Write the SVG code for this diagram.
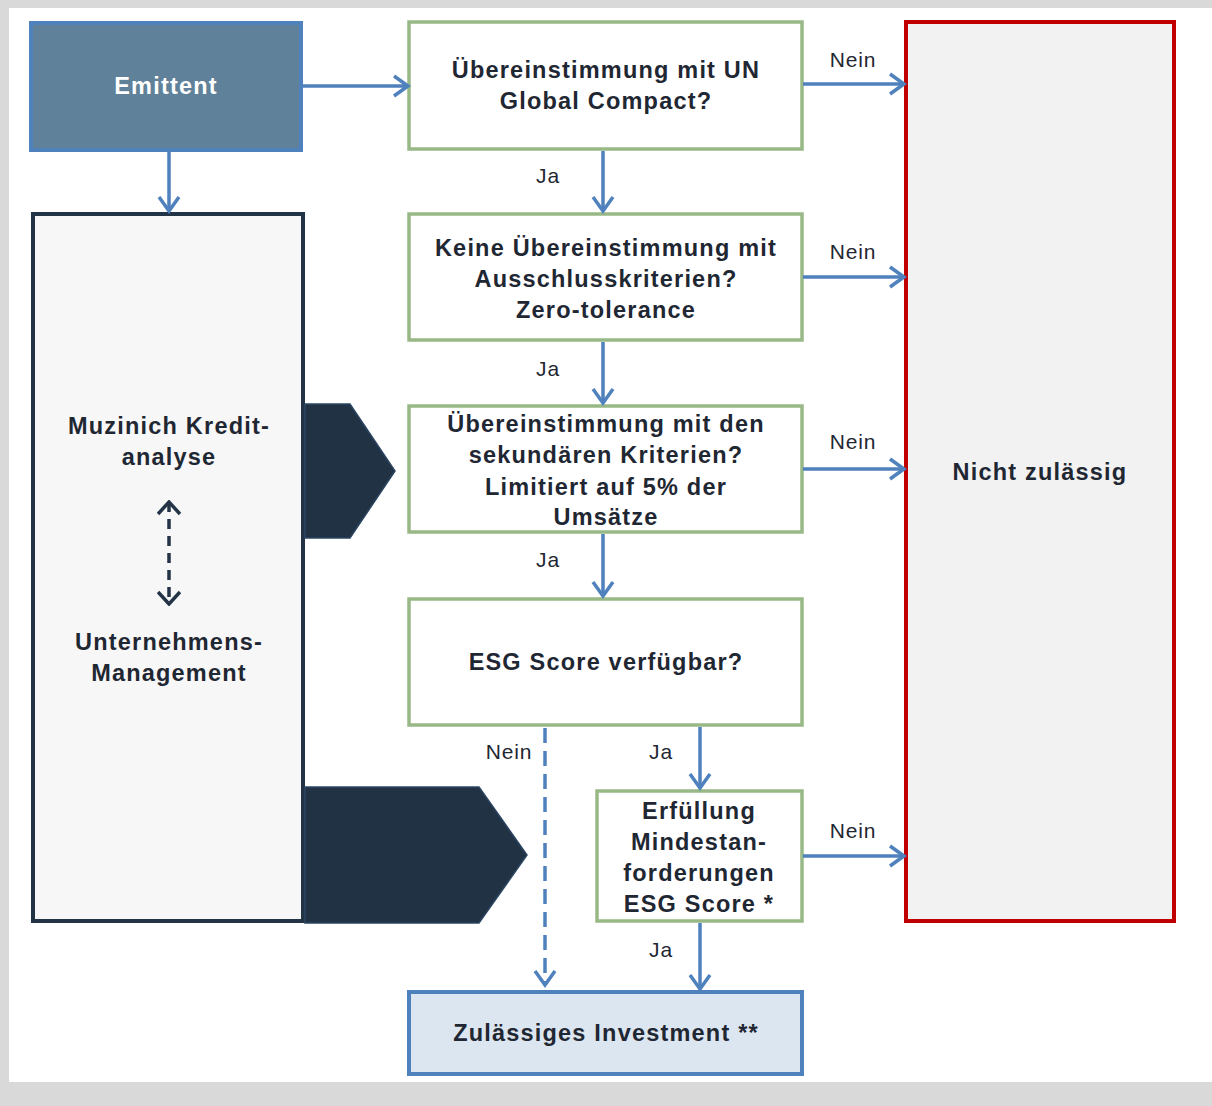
<svg xmlns="http://www.w3.org/2000/svg" width="1212" height="1106" viewBox="0 0 1212 1106">
<defs>
<style>
.t{font-family:"Liberation Sans",Arial,sans-serif;font-weight:bold;font-size:23.5px;fill:#1f2733;text-anchor:middle;letter-spacing:1.2px}
.l{font-family:"Liberation Sans",Arial,sans-serif;font-size:21px;fill:#1f2733;text-anchor:middle;letter-spacing:0.8px}
.g{fill:#fff;stroke:#98b886;stroke-width:3.5}
.c{fill:none;stroke:#4f81bd;stroke-width:3.5}
.d{fill:#203243;stroke:#2b4563;stroke-width:1.5}
</style>
<marker id="ah" markerUnits="userSpaceOnUse" viewBox="0 0 24 24" refX="21" refY="12" markerWidth="24" markerHeight="24" orient="auto">
<path d="M7,2 L21,12 L7,22" fill="none" stroke="#4f81bd" stroke-width="3.5"/>
</marker>
<marker id="dh" markerUnits="userSpaceOnUse" viewBox="0 0 24 24" refX="22" refY="12" markerWidth="24" markerHeight="24" orient="auto">
<path d="M10,1 L22,12 L10,23" fill="none" stroke="#243447" stroke-width="3.5"/>
</marker>
<marker id="dhs" markerUnits="userSpaceOnUse" viewBox="0 0 24 24" refX="22" refY="12" markerWidth="24" markerHeight="24" orient="auto-start-reverse">
<path d="M10,1 L22,12 L10,23" fill="none" stroke="#243447" stroke-width="3.5"/>
</marker>
</defs>
<rect x="0" y="0" width="1212" height="1106" fill="#d9d9d9"/>
<rect x="9" y="8" width="1203" height="1074" fill="#fff"/>

<g id="emittent">
<rect x="31" y="23" width="270" height="127" fill="#5f8199" stroke="#4f81bd" stroke-width="4"/>
<text class="t" x="166" y="94" style="fill:#fff">Emittent</text>
</g>
<g id="analyse">
<rect x="33" y="214" width="270" height="707" fill="#f7f7f7" stroke="#243447" stroke-width="4"/>
<text class="t" x="169" y="434">Muzinich Kredit-</text>
<text class="t" x="169" y="465">analyse</text>
<line x1="169" y1="502" x2="169" y2="604" stroke="#243447" stroke-width="3.5" stroke-dasharray="10,7" marker-start="url(#dhs)" marker-end="url(#dh)"/>
<text class="t" x="169" y="650">Unternehmens-</text>
<text class="t" x="169" y="681">Management</text>
</g>
<g id="pfeil1"><polygon class="d" points="305,404 350,404 395,471 350,538 305,538"/></g>
<g id="pfeil2"><polygon class="d" points="305,787 479,787 527,855 479,923 305,923"/></g>

<g id="q1">
<rect class="g" x="409" y="22" width="393" height="127"/>
<text class="t" x="606" y="78">Übereinstimmung mit UN</text>
<text class="t" x="606" y="109">Global Compact?</text>
</g>
<g id="q2">
<rect class="g" x="409" y="214" width="393" height="126"/>
<text class="t" x="606" y="256">Keine Übereinstimmung mit</text>
<text class="t" x="606" y="287">Ausschlusskriterien?</text>
<text class="t" x="606" y="318">Zero-tolerance</text>
</g>
<g id="q3">
<rect class="g" x="409" y="406" width="393" height="126"/>
<text class="t" x="606" y="432">Übereinstimmung mit den</text>
<text class="t" x="606" y="463">sekundären Kriterien?</text>
<text class="t" x="606" y="495">Limitiert auf 5% der</text>
<text class="t" x="606" y="525">Umsätze</text>
</g>
<g id="q4">
<rect class="g" x="409" y="599" width="393" height="126"/>
<text class="t" x="606" y="670">ESG Score verfügbar?</text>
</g>
<g id="q5">
<rect class="g" x="597" y="791" width="205" height="130"/>
<text class="t" x="699" y="819">Erfüllung</text>
<text class="t" x="699" y="850">Mindestan-</text>
<text class="t" x="699" y="881">forderungen</text>
<text class="t" x="699" y="912">ESG Score *</text>
</g>
<g id="nicht">
<rect x="906" y="22" width="268" height="899" fill="#f2f2f2" stroke="#c00000" stroke-width="4"/>
<text class="t" x="1040" y="480">Nicht zulässig</text>
</g>
<g id="invest">
<rect x="409" y="992" width="393" height="82" fill="#dce6f1" stroke="#4f81bd" stroke-width="4"/>
<text class="t" x="606" y="1041">Zulässiges Investment **</text>
</g>

<g id="connectors">
<line class="c" x1="303" y1="86" x2="408" y2="86" marker-end="url(#ah)"/>
<line class="c" x1="169" y1="152" x2="169" y2="211" marker-end="url(#ah)"/>
<line class="c" x1="603" y1="151" x2="603" y2="211" marker-end="url(#ah)"/>
<line class="c" x1="603" y1="342" x2="603" y2="403" marker-end="url(#ah)"/>
<line class="c" x1="603" y1="534" x2="603" y2="596" marker-end="url(#ah)"/>
<line class="c" x1="700" y1="727" x2="700" y2="788" marker-end="url(#ah)"/>
<line class="c" x1="700" y1="923" x2="700" y2="989" marker-end="url(#ah)"/>
<line class="c" x1="545" y1="728" x2="545" y2="985" stroke-dasharray="15,8" marker-end="url(#ah)"/>
<line class="c" x1="803" y1="84" x2="904" y2="84" marker-end="url(#ah)"/>
<line class="c" x1="803" y1="277" x2="904" y2="277" marker-end="url(#ah)"/>
<line class="c" x1="803" y1="469" x2="904" y2="469" marker-end="url(#ah)"/>
<line class="c" x1="803" y1="856" x2="904" y2="856" marker-end="url(#ah)"/>
<text class="l" x="548" y="183">Ja</text>
<text class="l" x="548" y="376">Ja</text>
<text class="l" x="548" y="567">Ja</text>
<text class="l" x="853" y="67">Nein</text>
<text class="l" x="853" y="259">Nein</text>
<text class="l" x="853" y="449">Nein</text>
<text class="l" x="853" y="838">Nein</text>
<text class="l" x="509" y="759">Nein</text>
<text class="l" x="661" y="759">Ja</text>
<text class="l" x="661" y="957">Ja</text>
</g>
</svg>
